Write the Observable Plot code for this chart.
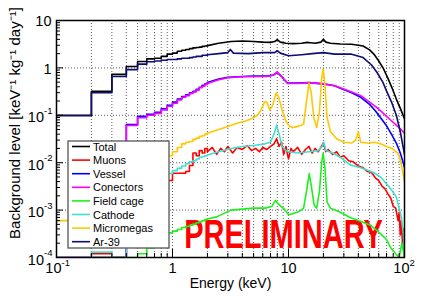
<!DOCTYPE html>
<html><head><meta charset="utf-8">
<script src="https://cdn.jsdelivr.net/npm/d3@7"></script>
<script src="https://cdn.jsdelivr.net/npm/@observablehq/plot@0.6"></script>
<style>body{margin:0;background:#fff}</style>
</head><body><div id="chart"></div>
<script>
// ---- data (bin start energies in keV; values in keV^-1 kg^-1 day^-1) ----
const lowE = [0.1,0.2,0.3,0.4,0.5,0.6,0.7,0.8,0.9,1.0,1.1,1.2,1.3,1.4,1.5,1.6,1.7,1.8,1.9];

const totalLow = [0.1,0.32,0.73,1.07,1.36,1.55,1.6,1.75,1.95,2.05,2.25,2.35,2.45,2.55,2.65,2.7,2.75,2.85,2.9];
const totalHigh = [[2.0,2.95],[2.5,3.3],[3.2,3.6],[4,3.7],[5,3.6],[6,3.5],[7,3.45],[7.6,3.6],[8.0,3.95],[8.5,3.5],[9.5,3.3],[11,3.25],[13,3.3],[14.5,3.45],[15.5,3.4],[17,3.3],[19,3.5],[20,4.0],[21,3.5],[23,3.3],[28,3.2],[35,3.15],[44,2.9],[50,2.4],[55,1.9],[60,1.4],[66,0.95],[72,0.6],[78,0.38],[85,0.22],[92,0.14],[100,0.085]];

const muonsLow = [0,0.00012,0,0.0005,0.001,0.0015,0.0025,0.0033,0.0042,0.006,0.006,0.006,0.0065,0.0087,0.016,0.014,0.018,0.016,0.02];
const muonsHigh = [[2.0,0.017],[2.2,0.021],[2.4,0.015],[2.6,0.02],[2.8,0.017],[3.0,0.022],[3.3,0.016],[3.6,0.021],[4,0.019],[4.4,0.023],[4.8,0.018],[5.2,0.02],[5.6,0.017],[6,0.021],[6.5,0.019],[7,0.022],[7.5,0.025],[7.9,0.032],[8.3,0.022],[8.7,0.027],[9.1,0.015],[9.5,0.022],[10,0.012],[10.5,0.02],[11,0.017],[12,0.021],[13,0.015],[14,0.019],[15,0.022],[16,0.016],[17,0.02],[18,0.017],[19,0.021],[20,0.026],[21,0.017],[22,0.019],[24,0.015],[26,0.017],[28,0.013],[30,0.014],[33,0.011],[36,0.0105],[40,0.0085],[44,0.0078],[48,0.0065],[52,0.0062],[56,0.0048],[60,0.0042],[64,0.0032],[68,0.0028],[72,0.0022],[76,0.0018],[80,0.0012],[84,0.0011],[88,0.0006],[90,0.0009],[92,0.0003],[94,0.0006],[96,0.0002],[98,0.0004],[100,0.0001]];

const vesselLow = [0,0,0,0.064,0.095,0.105,0.115,0.137,0.163,0.19,0.22,0.25,0.27,0.3,0.32,0.355,0.39,0.43,0.46];
const vesselHigh = [[2.0,0.49],[2.5,0.58],[3.0,0.63],[4,0.66],[5,0.67],[6.5,0.67],[7.4,0.71],[8.0,0.8],[8.6,0.68],[9.3,0.55],[9.8,0.48],[12,0.48],[15,0.49],[20,0.46],[25,0.42],[28,0.37],[35,0.3],[42,0.24],[50,0.17],[56,0.125],[62,0.09],[70,0.06],[78,0.038],[85,0.026],[92,0.016],[100,0.008]];

const conectorsLow = [0,0,0,0.061,0.089,0.1,0.11,0.13,0.155,0.18,0.21,0.24,0.26,0.29,0.31,0.34,0.38,0.41,0.45];
const conectorsHigh = [[2.0,0.47],[2.5,0.56],[3.0,0.62],[4,0.65],[5,0.66],[6.5,0.66],[7.4,0.7],[8.0,0.82],[8.6,0.68],[9.3,0.55],[9.8,0.47],[12,0.47],[15,0.49],[20,0.46],[25,0.42],[28,0.38],[35,0.31],[42,0.26],[50,0.19],[56,0.155],[62,0.125],[70,0.095],[78,0.075],[85,0.062],[92,0.052],[100,0.042]];

const fieldCageLow = [null,0,0,0,0.00012,0.00016,0.00021,0.00027,0.00033,0.00036,0.00039,0.00043,0.00045,0.00048,0.00051,0.00054,0.00057,0.0006,0.00063];
const fieldCageHigh = [[2.0,0.00065],[2.4,0.00072],[3.2,0.001],[4,0.00105],[5,0.0011],[6.3,0.0011],[7.2,0.0012],[7.7,0.0016],[8.3,0.0013],[9.2,0.00105],[10,0.0008],[11,0.00085],[12.5,0.00095],[13.5,0.0011],[14.3,0.0025],[15.1,0.0059],[15.8,0.003],[16.6,0.0013],[17.5,0.0011],[18.5,0.0025],[19.3,0.01],[19.9,0.016],[20.6,0.008],[21.5,0.0015],[23,0.0011],[28,0.0009],[34,0.0007],[40,0.0006],[51,0.00048],[62,0.00032],[70,0.00024],[76,0.00016],[84,0.00012],[90,0.00009],[95,0.0002],[100,0.00005]];

const cathodeLow = [0,0.00013,0,0.0015,0.0022,0.003,0.004,0.005,0.0059,0.0068,0.0076,0.0085,0.0095,0.0105,0.011,0.012,0.013,0.0135,0.014];
const cathodeHigh = [[2.0,0.0145],[2.5,0.017],[3.2,0.02],[4,0.022],[5,0.023],[6.3,0.025],[7.0,0.027],[7.5,0.04],[7.9,0.062],[8.3,0.04],[8.8,0.022],[9.5,0.018],[10,0.017],[12,0.016],[15,0.017],[18,0.018],[19.5,0.022],[20.2,0.027],[21,0.018],[24,0.016],[28,0.013],[34,0.009],[42,0.0078],[54,0.0062],[62,0.005],[70,0.0036],[78,0.0026],[85,0.0019],[94,0.0007],[98,0.0003],[100,0.00012]];

const micromegasLow = [0.0006,0.0015,0.003,0.005,0.007,0.009,0.011,0.013,0.014,0.017,0.021,0.025,0.027,0.028,0.031,0.033,0.036,0.037,0.04];
const micromegasHigh = [[2.0,0.042],[2.5,0.05],[3.0,0.058],[3.6,0.068],[4.2,0.075],[4.8,0.085],[5.4,0.1],[5.8,0.13],[6.2,0.19],[6.5,0.19],[6.9,0.13],[7.3,0.16],[7.8,0.29],[8.2,0.25],[8.8,0.13],[9.5,0.075],[10.2,0.058],[11,0.055],[12.5,0.06],[13.5,0.065],[14.3,0.2],[15.0,0.48],[15.7,0.3],[16.5,0.09],[17.5,0.055],[18.5,0.12],[19.3,0.6],[19.9,0.95],[20.6,0.45],[21.5,0.09],[23,0.045],[26,0.032],[30,0.027],[35,0.026],[38,0.03],[40,0.045],[42,0.027],[48,0.026],[55,0.027],[62,0.025],[70,0.022],[78,0.02],[85,0.017],[90,0.014],[95,0.008],[100,0.004]];

const ar39Low = [0.098,0.30,0.66,0.92,1.2,1.35,1.4,1.45,1.5,1.5,1.55,1.6,1.6,1.65,1.7,1.75,1.75,1.85,1.85];
const ar39High = [[2.0,1.9],[2.5,2.0],[3.0,2.1],[3.15,2.45],[3.35,2.05],[4.5,2.0],[6,2.1],[7.6,2.1],[8,2.3],[8.5,2.05],[10,1.8],[13,1.9],[16,2.0],[20,2.1],[25,1.95],[35,1.95],[44,1.65],[52,1.15],[58,0.8],[65,0.5],[71,0.3],[78,0.18],[85,0.1],[92,0.045],[100,0.015]];

const legendNames = ["Total","Muons","Vessel","Conectors","Field cage","Cathode","Micromegas","Ar-39"];
const legendColors = ["#000000","#ff0000","#0000ff","#ff00ff","#1ef01e","#40e0d0","#ffc800","#0d0d73"];

const xTickLabels = [{v:0.1,b:"10",e:"-1"},{v:1,b:"1",e:""},{v:10,b:"10",e:""},{v:100,b:"10",e:"2"}];
const yTickLabels = [{v:10,b:"10",e:""},{v:1,b:"1",e:""},{v:0.1,b:"10",e:"-1"},{v:0.01,b:"10",e:"-2"},{v:0.001,b:"10",e:"-3"},{v:0.0001,b:"10",e:"-4"}];

// ---- drawing ----
const drawOrder = [
  ["Total", totalLow, totalHigh],
  ["Muons", muonsLow, muonsHigh],
  ["Vessel", vesselLow, vesselHigh],
  ["Conectors", conectorsLow, conectorsHigh],
  ["Cathode", cathodeLow, cathodeHigh],
  ["Field cage", fieldCageLow, fieldCageHigh],
  ["Micromegas", micromegasLow, micromegasHigh],
  ["Ar-39", ar39Low, ar39High]
];
const colorOf = n => legendColors[legendNames.indexOf(n)];
const val = v => v === null ? NaN : (v <= 0 ? 1e-7 : v);

const W = 436, H = 298, mL = 56, mR = 32, mT = 20, mB = 41;
const pw = W - mL - mR, ph = H - mT - mB;

const xMinor = [], yMinor = [];
for (const p of [0.1, 1, 10]) for (let k = 2; k <= 9; k++) xMinor.push(+(k * p).toPrecision(3));
for (const p of [1e-4, 1e-3, 1e-2, 1e-1, 1]) for (let k = 2; k <= 9; k++) yMinor.push(+(k * p).toPrecision(3));
const xGrid = [...xMinor, 1, 10];
const yMajor = [1e-4, 1e-3, 1e-2, 1e-1, 1, 10];

const seriesMarks = [];
for (const [name, lo, hi] of drawOrder) {
  const c = colorOf(name);
  const loPts = lowE.map((e, i) => ({E: e, v: val(lo[i])}));
  loPts.push({E: hi[0][0], v: val(hi[0][1])});
  const hiPts = hi.map(([E, v]) => ({E, v: val(v)}));
  seriesMarks.push(Plot.line(loPts, {x: "E", y: "v", curve: "step-after", stroke: c, strokeWidth: 1.6, clip: true}));
  seriesMarks.push(Plot.line(hiPts, {x: "E", y: "v", stroke: c, strokeWidth: 1.6, clip: true, strokeLinejoin: "round"}));
}

const font = "'Liberation Sans', Arial, Helvetica, sans-serif";
const plot = Plot.plot({
  width: W, height: H, marginLeft: mL, marginRight: mR, marginTop: mT, marginBottom: mB,
  x: {type: "log", domain: [0.1, 100], axis: null},
  y: {type: "log", domain: [1e-4, 10], axis: null, clamp: true},
  style: {fontFamily: font, background: "white", color: "black", overflow: "visible"},
  marks: [
    Plot.ruleX(xGrid, {x: d => d, stroke: "#333", strokeDasharray: "1,2", strokeWidth: 0.8}),
    Plot.ruleY([1e-3, 1e-2, 1e-1, 1], {y: d => d, stroke: "#333", strokeDasharray: "1,2", strokeWidth: 0.8}),
    Plot.text([{E: 9.06, v: 1.625e-4}], {x: "E", y: "v", text: () => "PRELIMINARY", lineAnchor: "bottom", textAnchor: "middle", fontSize: 29, fontWeight: "bold", fill: "#ff0000", ariaDescription: "prelim"}),
    ...seriesMarks,
    Plot.frame({stroke: "black", strokeWidth: 1.5}),
    Plot.ruleY(yMajor, {y: d => d, insetRight: pw - 7, stroke: "black"}),
    Plot.ruleY(yMinor, {y: d => d, insetRight: pw - 4, stroke: "black"}),
    Plot.ruleX([1, 10], {x: d => d, insetTop: ph - 8, stroke: "black"}),
    Plot.ruleX(xMinor, {x: d => d, insetTop: ph - 4, stroke: "black"}),
    // x tick labels
    Plot.text(xTickLabels.filter(d => d.e), {x: "v", frameAnchor: "bottom", text: "b", textAnchor: "end", dx: 5, dy: 15.2, fontSize: 14.5}),
    Plot.text(xTickLabels.filter(d => !d.e), {x: "v", frameAnchor: "bottom", text: "b", textAnchor: "middle", dy: 15.2, fontSize: 14.5}),
    Plot.text(xTickLabels.filter(d => d.e), {x: "v", frameAnchor: "bottom", text: "e", textAnchor: "start", dx: 5, dy: 8.5, fontSize: 9.5}),
    // y tick labels
    Plot.text(yTickLabels.filter(d => d.e), {y: "v", frameAnchor: "left", text: "b", textAnchor: "end", dx: -12.5, dy: 2.5, fontSize: 14.5}),
    Plot.text(yTickLabels.filter(d => !d.e), {y: "v", frameAnchor: "left", text: "b", textAnchor: "end", dx: -5, dy: 1, fontSize: 14.5}),
    Plot.text(yTickLabels.filter(d => d.e), {y: "v", frameAnchor: "left", text: "e", textAnchor: "end", dx: -4, dy: -4.5, fontSize: 9.5}),
    // axis titles
    Plot.text(["Energy (keV)"], {frameAnchor: "bottom", text: d => d, textAnchor: "middle", lineAnchor: "middle", dy: 26.5, fontSize: 14}),
    Plot.text(["Background level [keV⁻¹ kg⁻¹ day⁻¹]"], {frameAnchor: "left", text: d => d, rotate: -90, textAnchor: "middle", lineAnchor: "middle", dx: -41, dy: -16, fontSize: 15})
  ]
});

// stretch the PRELIMINARY stamp vertically
const pt = plot.querySelector('g[aria-description="prelim"] text');
if (pt) pt.setAttribute("transform", (pt.getAttribute("transform") || "") + " scale(1,1.37)");

// legend box
const svg = d3.select(plot);
const lg = svg.append("g").attr("font-family", font).attr("text-anchor", "start");
lg.append("rect").attr("x", 68).attr("y", 141).attr("width", 101).attr("height", 107)
  .attr("fill", "white").attr("stroke", "#555").attr("stroke-width", 1.3);
legendNames.forEach((n, i) => {
  const y = 146.5 + i * 13.6;
  lg.append("line").attr("x1", 72).attr("x2", 90).attr("y1", y).attr("y2", y)
    .attr("stroke", legendColors[i]).attr("stroke-width", 1.6);
  lg.append("text").attr("x", 93).attr("y", y + 4).attr("font-size", 11).attr("fill", "black")
    .attr("text-anchor", "start").text(n);
});

document.getElementById("chart").appendChild(plot);
</script>
</body></html>
